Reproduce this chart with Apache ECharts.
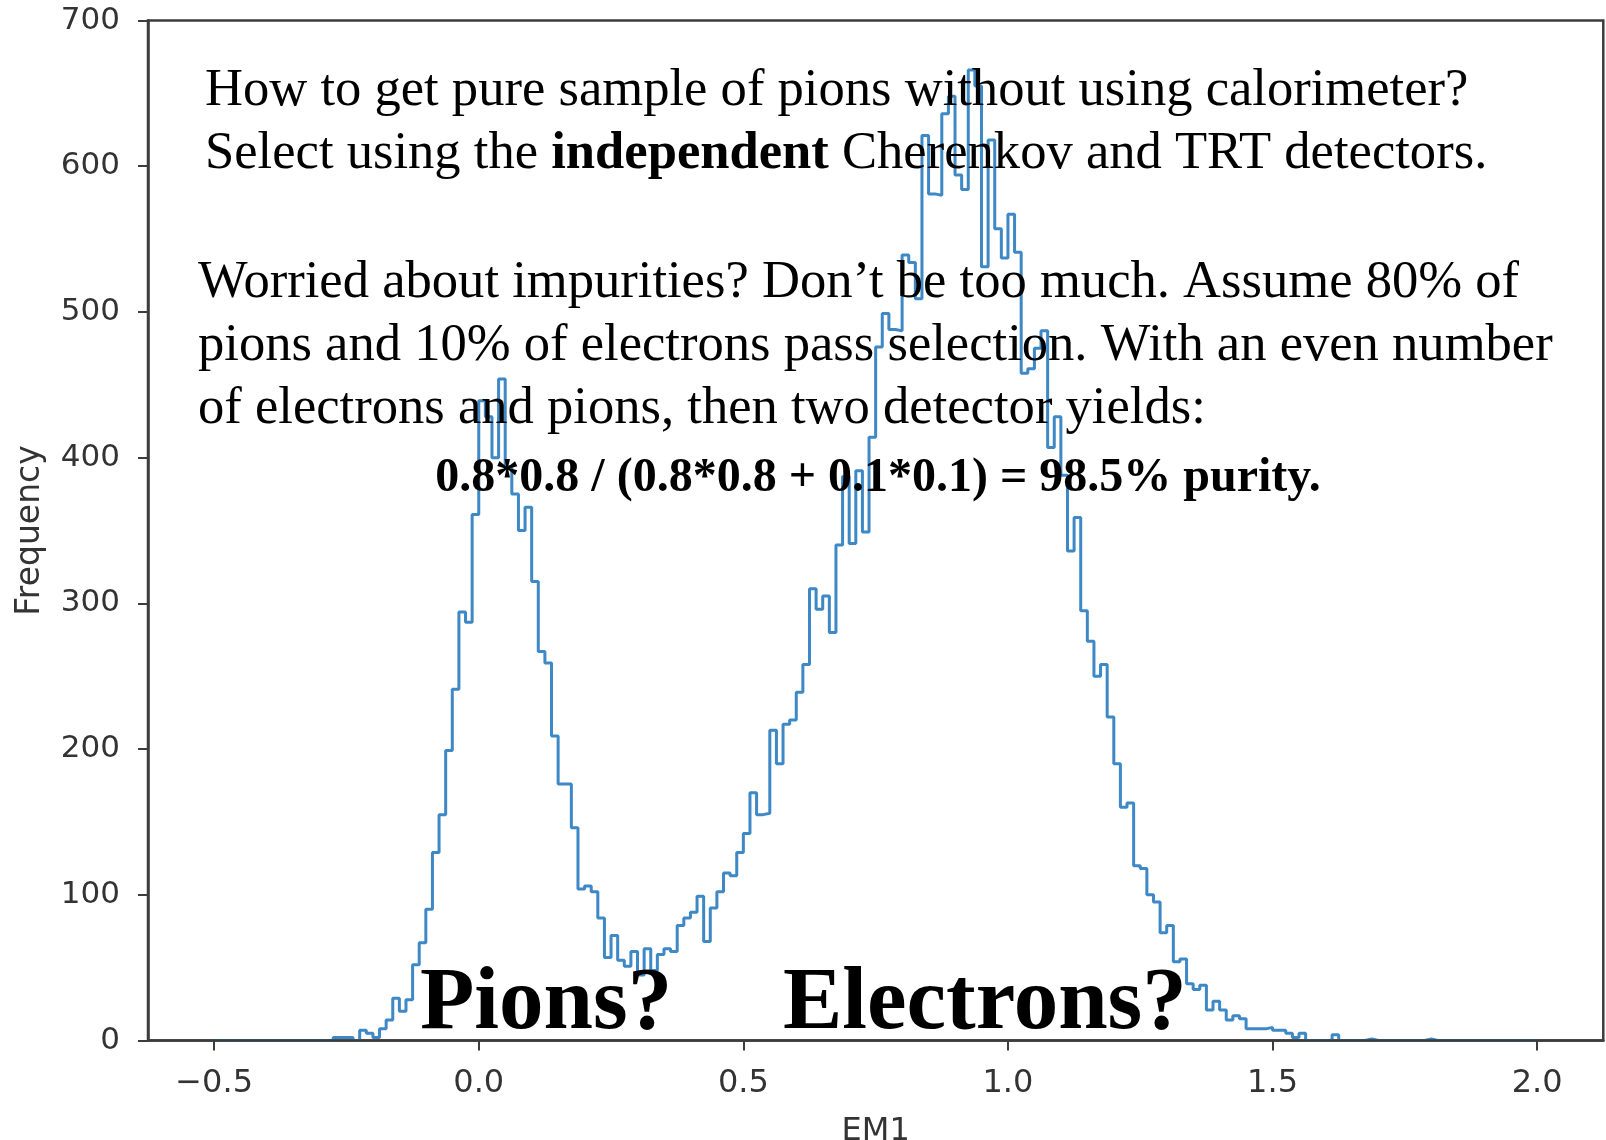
<!DOCTYPE html>
<html><head><meta charset="utf-8">
<script src="https://cdn.jsdelivr.net/npm/echarts@6/dist/echarts.min.js"></script>
<style>html,body{margin:0;padding:0;background:#fff}#c{width:1606px;height:1140px}</style>
</head><body><div id="c"></div>
<script>
// Histogram bins (range -0.5 .. 2.0, 200 bins)
const binStart = -0.5;
const binWidth = 0.0125;
const counts = [
  0,0,0,0,0,0,0,0,0,0, 0,0,0,0,0,0,0,0,2,2,
  2,0,7,5,2,8,14,29,20,28,
  52,67,90,129,155,199,241,294,287,361,
  439,428,400,454,394,375,350,366,315,267,
  259,209,176,176,146,104,106,102,84,57,
  72,55,51,61,45,63,48,59,63,61,
  79,84,88,99,68,91,102,115,113,129,
  142,170,155,156,213,190,217,220,239,258,
  310,296,305,280,340,387,341,391,349,414,
  476,499,488,487,539,534,509,621,581,580,
  636,648,594,584,666,655,531,618,557,537,
  567,541,458,461,475,487,407,428,388,336,
  359,295,274,250,258,222,190,160,163,120,
  118,100,95,74,79,54,56,39,35,38,
  21,27,21,14,17,15,8,8,8,9,
  7,7,5,2,5,0,0,0,0,4,
  0,0,0,0,1,0,0,0,0,0,
  0,0,0,1,0,0,0,0,0,0,
  0,0,0,0,0,0,0,0,0,0
];
const xTicks = [-0.5, 0.0, 0.5, 1.0, 1.5, 2.0];
const xLimits = [-0.625, 2.125];
const yLimits = [0, 700];
const yStep = 100;
const xTitle = 'EM1';
const yTitle = 'Frequency';
const line1 = 'How to get pure sample of pions without using calorimeter?';
const line2a = 'Select using the ';
const line2b = 'independent';
const line2c = ' Cherenkov and TRT detectors.';
const line3 = 'Worried about impurities? Don\u2019t be too much. Assume 80% of';
const line4 = 'pions and 10% of electrons pass selection. With an even number';
const line5 = 'of electrons and pions, then two detector yields:';
const line6 = '0.8*0.8 / (0.8*0.8 + 0.1*0.1) = 98.5% purity.';
const label1 = 'Pions?';
const label2 = 'Electrons?';

const pts = counts.map((c, i) => [binStart + i * binWidth, c]);
pts.push([binStart + counts.length * binWidth, counts[counts.length - 1]]);

const serif = '"Liberation Serif", "DejaVu Serif", serif';
const sans = '"DejaVu Sans", sans-serif';
const FS = 52.6;

function txt(x, y, text, font, align) {
  return { type: 'text', z: 100, x: x, y: y,
    style: { text: text, font: font, fill: '#000', textAlign: align || 'left', textVerticalAlign: 'middle' } };
}

const chart = echarts.init(document.getElementById('c'), null, { renderer: 'canvas' });
chart.setOption({
  animation: false,
  backgroundColor: '#fff',
  grid: { left: 148, top: 20.5, right: 2.7, bottom: 99.5, show: true, borderColor: '#3c3c3c', borderWidth: 2.5,
    containLabel: false, outerBoundsMode: 'none' },
  xAxis: {
    type: 'value', min: xLimits[0], max: xLimits[1], z: 5,
    axisLine: { show: true, onZero: false, lineStyle: { color: '#3c3c3c', width: 2.5 } },
    axisTick: { show: true, inside: false, length: 10, customValues: xTicks, lineStyle: { color: '#3c3c3c', width: 2 } },
    axisLabel: { customValues: xTicks, margin: 27, fontSize: 32, fontFamily: sans, color: '#333',
      formatter: v => (v < 0 ? '\u2212' : '') + Math.abs(v).toFixed(1) },
    splitLine: { show: false },
    name: xTitle, nameLocation: 'middle', nameGap: 75,
    nameTextStyle: { fontSize: 32, fontFamily: sans, color: '#333' }
  },
  yAxis: {
    type: 'value', min: yLimits[0], max: yLimits[1], interval: yStep, z: 5,
    axisLine: { show: true, onZero: false, lineStyle: { color: '#3c3c3c', width: 2.5 } },
    axisTick: { show: true, inside: false, length: 10, lineStyle: { color: '#3c3c3c', width: 2 } },
    axisLabel: { margin: 28, fontSize: 31, fontFamily: sans, color: '#333' },
    splitLine: { show: false },
    name: yTitle, nameLocation: 'middle', nameGap: 101, nameRotate: 90,
    nameTextStyle: { fontSize: 33, fontFamily: sans, color: '#333' }
  },
  series: [{
    type: 'line', data: pts, step: 'end', showSymbol: false, symbol: 'none', z: 2,
    lineStyle: { color: '#3d88c5', width: 3 }, clip: true
  }],
  graphic: [
    txt(205, 109 - 0.33 * FS, line1, FS + 'px ' + serif),
    { type: 'text', z: 100, x: 205, y: 172 - 0.33 * FS,
      style: { text: '{a|' + line2a + '}{b|' + line2b + '}{a|' + line2c + '}', fill: '#000', textVerticalAlign: 'middle',
        rich: { a: { font: FS + 'px ' + serif, fill: '#000' }, b: { font: 'bold ' + FS + 'px ' + serif, fill: '#000' } } } },
    txt(198, 301 - 0.33 * FS, line3, FS + 'px ' + serif),
    txt(198, 364 - 0.33 * FS, line4, FS + 'px ' + serif),
    txt(198, 427 - 0.33 * FS, line5, FS + 'px ' + serif),
    txt(878, 494 - 0.33 * 48, line6, 'bold 48px ' + serif, 'center'),
    txt(420, 1034 - 0.33 * 89, label1, 'bold 89px ' + serif),
    txt(783, 1034 - 0.33 * 89, label2, 'bold 89px ' + serif)
  ]
});
</script></body></html>
